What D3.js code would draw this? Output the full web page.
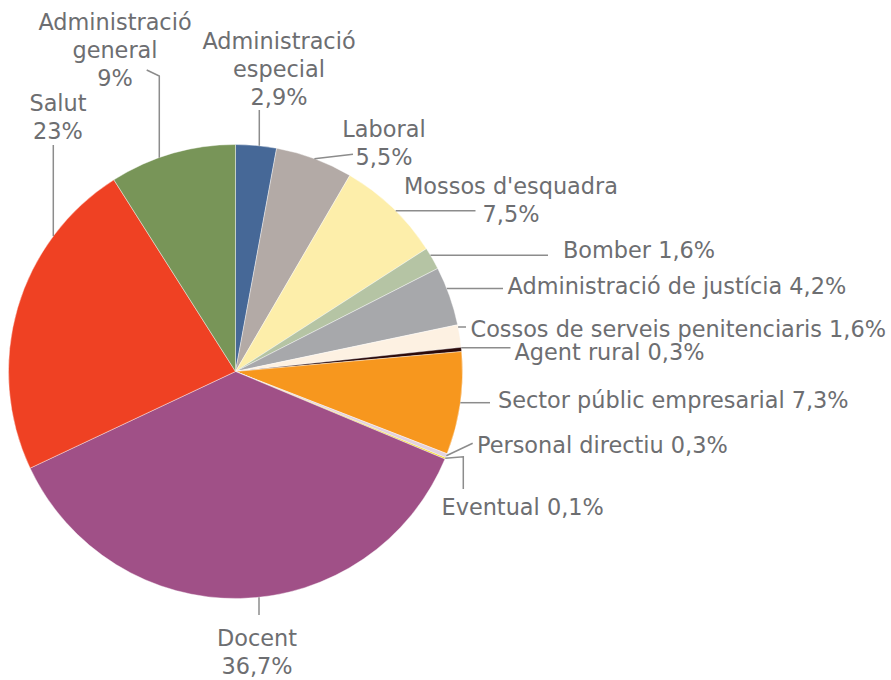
<!DOCTYPE html>
<html>
<head>
<meta charset="utf-8">
<script src="https://cdn.jsdelivr.net/npm/d3@7"></script>
<style>
  body { margin: 0; background: #fff; }
  #chart { width: 891px; height: 680px; }
  .slice-label { font-family: "DejaVu Sans", sans-serif; font-size: 22.4px; fill: #6d6e71; }
  .leader { fill: none; stroke: #8c8c8c; stroke-width: 1.5; }
</style>
</head>
<body>
<div id="chart"></div>
<script>
// data, clockwise from 12 o'clock
const categories = ["Administració especial", "Laboral", "Mossos d'esquadra", "Bomber",
    "Administració de justícia", "Cossos de serveis penitenciaris", "Agent rural",
    "Sector públic empresarial", "Personal directiu", "Eventual", "Docent", "Salut",
    "Administració general"]
const values = [2.9, 5.5, 7.5, 1.6, 4.2, 1.6, 0.3, 7.3, 0.3, 0.1, 36.7, 23, 9]
const colors = ["#466897", "#b3aaa6", "#fdeeaa", "#b5c4a4", "#a7a8ab", "#fdf1e2", "#2b0a0a",
    "#f7971e", "#e3d2de", "#f5d400", "#a05087", "#ef4123", "#789558"]

// label layout: wrap 0 = one line, 1 = name / value, 2 = name split at first space / value
// edge: where the leader meets the pie ("mid" = slice middle, "h" = horizontal, "v" = vertical)
const labelLayout = [
    {tx: 279, ty: 49, anchor: "middle", wrap: 2, edge: "v", path: [[259.3, 110]]},
    {tx: 384, ty: 137, anchor: "middle", wrap: 1, edge: "mid", path: [[353, 154.3]]},
    {tx: 511, ty: 194, anchor: "middle", wrap: 1, edge: "h", path: [[475.5, 210.7]]},
    {tx: 563, ty: 258, anchor: "start", wrap: 0, edge: "h", path: [[548, 255.3]]},
    {tx: 507.5, ty: 294, anchor: "start", wrap: 0, edge: "h", path: [[503, 288.5]]},
    {tx: 470.5, ty: 336.5, anchor: "start", wrap: 0, edge: "h", path: [[466, 327]]},
    {tx: 514.5, ty: 360, anchor: "start", wrap: 0, edge: "h", path: [[510.5, 347.7]]},
    {tx: 498, ty: 408, anchor: "start", wrap: 0, edge: "h", path: [[490, 402.7]]},
    {tx: 477, ty: 452.5, anchor: "start", wrap: 0, edge: "mid", path: [[472.7, 443.3]]},
    {tx: 441.5, ty: 515, anchor: "start", wrap: 0, edge: "mid", path: [[463.3, 456.7], [463.3, 489]]},
    {tx: 257, ty: 646, anchor: "middle", wrap: 1, edge: "v", path: [[259, 615]]},
    {tx: 58, ty: 111, anchor: "middle", wrap: 1, edge: "v", path: [[53.3, 145]]},
    {tx: 115, ty: 30, anchor: "middle", wrap: 2, edge: "v", path: [[159.3, 76], [146.7, 70]]}
]

const width = 891, height = 680
const cx = 235.5, cy = 371.5, radius = 227
const lineHeight = 28

const svg = d3.select("#chart")
    .append("svg")
    .attr("width", width)
    .attr("height", height)
    .attr("display", "block")

const pie = d3.pie().sort(null).value(function(d) { return d })
const arcs = pie(values)
const arc = d3.arc().innerRadius(0).outerRadius(radius)

const g = svg.append("g").attr("transform", "translate(" + cx + "," + cy + ")")

g.selectAll("path.slice")
    .data(arcs)
    .enter()
    .append("path")
    .attr("class", "slice")
    .attr("d", arc)
    .attr("fill", function(d, i) { return colors[i] })
    .attr("stroke", "#fff")
    .attr("stroke-width", 0.4)

function fmt(v) { return String(v).replace(".", ",") + "%" }

function edgePoint(a, lay) {
    const p = lay.path[0]
    if (lay.edge === "h") {
        const dy = p[1] - cy
        return [cx + Math.sqrt(radius * radius - dy * dy), p[1]]
    }
    if (lay.edge === "v") {
        const dx = p[0] - cx
        const s = p[1] < cy ? -1 : 1
        return [p[0], cy + s * Math.sqrt(radius * radius - dx * dx)]
    }
    const ang = (a.startAngle + a.endAngle) / 2
    return [cx + radius * Math.sin(ang), cy - radius * Math.cos(ang)]
}

const labels = svg.append("g")

arcs.forEach(function(a, i) {
    const lay = labelLayout[i]
    const pts = [edgePoint(a, lay)].concat(lay.path)
    labels.append("path")
        .attr("class", "leader")
        .attr("d", d3.line()(pts))

    const name = categories[i]
    let lines
    if (lay.wrap === 0) lines = [name + " " + fmt(values[i])]
    else if (lay.wrap === 1) lines = [name, fmt(values[i])]
    else {
        const k = name.indexOf(" ")
        lines = [name.slice(0, k), name.slice(k + 1), fmt(values[i])]
    }
    const t = labels.append("text")
        .attr("class", "slice-label")
        .attr("text-anchor", lay.anchor)
        .attr("x", lay.tx)
        .attr("y", lay.ty)
    lines.forEach(function(s, j) {
        t.append("tspan")
            .attr("x", lay.tx)
            .attr("dy", j === 0 ? 0 : lineHeight)
            .text(s)
    })
})
</script>
</body>
</html>
